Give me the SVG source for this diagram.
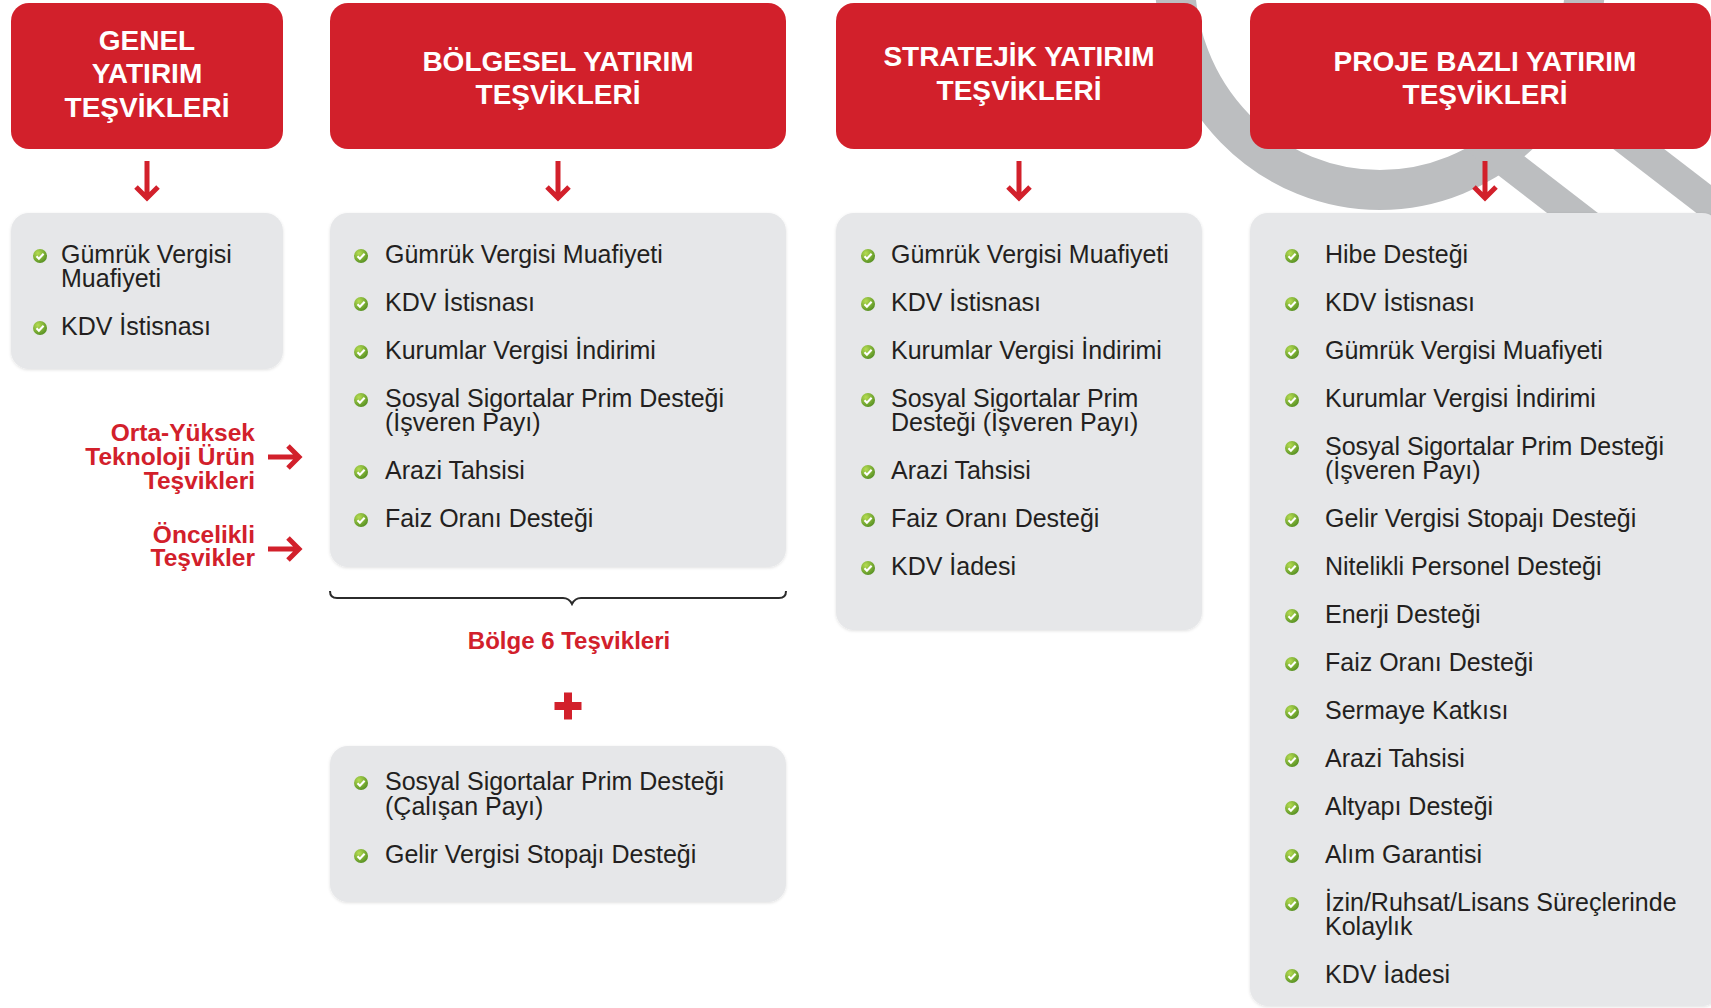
<svg xmlns="http://www.w3.org/2000/svg" xmlns:xlink="http://www.w3.org/1999/xlink" width="1711" height="1008" viewBox="0 0 1711 1008">
<defs>
<style>
.hdr{fill:#d2202b}
.ht{font-family:"Liberation Sans",Arial,sans-serif;font-weight:bold;font-size:28px;fill:#fff;text-anchor:middle}
.box{fill:#e6e7e9}
.it{font-family:"Liberation Sans",Arial,sans-serif;font-size:25px;fill:#231f20}
.lbl{font-family:"Liberation Sans",Arial,sans-serif;font-weight:bold;font-size:24.5px;fill:#d2202b;text-anchor:end}
.arr{fill:none;stroke:#d2202b;stroke-width:5}
.deco{fill:none;stroke:#bcbec0}
</style>
<radialGradient id="gg" cx="0.35" cy="0.3" r="0.8"><stop offset="0" stop-color="#b5dc52"/><stop offset="1" stop-color="#4f8a1f"/></radialGradient>
<g id="chk"><circle r="7" fill="url(#gg)"/><path d="M-3.5,0.3 L-1.1,2.7 L3.6,-2.3" fill="none" stroke="#fff" stroke-width="2.1"/></g>
<filter id="sh" x="-5%" y="-5%" width="110%" height="110%"><feDropShadow dx="0" dy="1" stdDeviation="1.5" flood-color="#000" flood-opacity="0.12"/></filter>
</defs>
<rect width="1711" height="1008" fill="#fff"/>
<g id="decoration">
<ellipse class="deco" cx="1380" cy="-20" rx="205" ry="210" stroke-width="40"/>
<line class="deco" x1="1426" y1="100" x2="1640" y2="265" stroke-width="31"/>
<line class="deco" x1="1523" y1="60" x2="1770" y2="250" stroke-width="31"/>
</g>

<g id="genel">
<rect class="hdr" x="11" y="3" width="272" height="146" rx="18"/>
<text class="ht" x="147" y="50">GENEL</text>
<text class="ht" x="147" y="83">YATIRIM</text>
<text class="ht" x="147" y="117">TEŞVİKLERİ</text>
</g>
<g id="genel-list">
<rect class="box" x="11" y="213" width="272" height="156" rx="18" filter="url(#sh)"/>
<use xlink:href="#chk" x="40" y="256"/>
<text class="it" x="61" y="263">Gümrük Vergisi<tspan x="61" dy="24">Muafiyeti</tspan></text>
<use xlink:href="#chk" x="40" y="328"/>
<text class="it" x="61" y="335">KDV İstisnası</text>
</g>

<g id="bolgesel">
<rect class="hdr" x="330" y="3" width="456" height="146" rx="18"/>
<text class="ht" x="558" y="71">BÖLGESEL YATIRIM</text>
<text class="ht" x="558" y="104">TEŞVİKLERİ</text>
</g>
<g id="bolgesel-list">
<rect class="box" x="330" y="213" width="456" height="354" rx="18" filter="url(#sh)"/>
<use xlink:href="#chk" x="361" y="256"/>
<text class="it" x="385" y="263">Gümrük Vergisi Muafiyeti</text>
<use xlink:href="#chk" x="361" y="304"/>
<text class="it" x="385" y="311">KDV İstisnası</text>
<use xlink:href="#chk" x="361" y="352"/>
<text class="it" x="385" y="359">Kurumlar Vergisi İndirimi</text>
<use xlink:href="#chk" x="361" y="400"/>
<text class="it" x="385" y="407">Sosyal Sigortalar Prim Desteği<tspan x="385" dy="24">(İşveren Payı)</tspan></text>
<use xlink:href="#chk" x="361" y="472"/>
<text class="it" x="385" y="479">Arazi Tahsisi</text>
<use xlink:href="#chk" x="361" y="520"/>
<text class="it" x="385" y="527">Faiz Oranı Desteği</text>
</g>

<g id="bolge6">
<path d="M330,591 Q330,598 337,598 L563,598 Q569,598 572,604 Q575,598 581,598 L779,598 Q786,598 786,591" fill="none" stroke="#2b2b2b" stroke-width="2"/>
<text x="569" y="649" font-family="'Liberation Sans',Arial,sans-serif" font-weight="bold" font-size="24" fill="#d2202b" text-anchor="middle">Bölge 6 Teşvikleri</text>
<path d="M554.5,706 H581.5 M568,692.5 V719.5" stroke="#d2202b" stroke-width="8" fill="none"/>
</g>
<g id="bolge6-list">
<rect class="box" x="330" y="746" width="456" height="156" rx="18" filter="url(#sh)"/>
<use xlink:href="#chk" x="361" y="783"/>
<text class="it" x="385" y="790">Sosyal Sigortalar Prim Desteği<tspan x="385" dy="25">(Çalışan Payı)</tspan></text>
<use xlink:href="#chk" x="361" y="856"/>
<text class="it" x="385" y="863">Gelir Vergisi Stopajı Desteği</text>
</g>

<g id="stratejik">
<rect class="hdr" x="836" y="3" width="366" height="146" rx="18"/>
<text class="ht" x="1019" y="66">STRATEJİK YATIRIM</text>
<text class="ht" x="1019" y="100">TEŞVİKLERİ</text>
</g>
<g id="stratejik-list">
<rect class="box" x="836" y="213" width="366" height="417" rx="18" filter="url(#sh)"/>
<use xlink:href="#chk" x="868" y="256"/>
<text class="it" x="891" y="263">Gümrük Vergisi Muafiyeti</text>
<use xlink:href="#chk" x="868" y="304"/>
<text class="it" x="891" y="311">KDV İstisnası</text>
<use xlink:href="#chk" x="868" y="352"/>
<text class="it" x="891" y="359">Kurumlar Vergisi İndirimi</text>
<use xlink:href="#chk" x="868" y="400"/>
<text class="it" x="891" y="407">Sosyal Sigortalar Prim<tspan x="891" dy="24">Desteği (İşveren Payı)</tspan></text>
<use xlink:href="#chk" x="868" y="472"/>
<text class="it" x="891" y="479">Arazi Tahsisi</text>
<use xlink:href="#chk" x="868" y="520"/>
<text class="it" x="891" y="527">Faiz Oranı Desteği</text>
<use xlink:href="#chk" x="868" y="568"/>
<text class="it" x="891" y="575">KDV İadesi</text>
</g>

<g id="proje">
<rect class="hdr" x="1250" y="3" width="461" height="146" rx="18"/>
<text class="ht" x="1485" y="71">PROJE BAZLI YATIRIM</text>
<text class="ht" x="1485" y="104">TEŞVİKLERİ</text>
</g>
<g id="proje-list">
<rect class="box" x="1250" y="213" width="470" height="793" rx="18" filter="url(#sh)"/>
<use xlink:href="#chk" x="1292" y="256"/>
<text class="it" x="1325" y="263">Hibe Desteği</text>
<use xlink:href="#chk" x="1292" y="304"/>
<text class="it" x="1325" y="311">KDV İstisnası</text>
<use xlink:href="#chk" x="1292" y="352"/>
<text class="it" x="1325" y="359">Gümrük Vergisi Muafiyeti</text>
<use xlink:href="#chk" x="1292" y="400"/>
<text class="it" x="1325" y="407">Kurumlar Vergisi İndirimi</text>
<use xlink:href="#chk" x="1292" y="448"/>
<text class="it" x="1325" y="455">Sosyal Sigortalar Prim Desteği<tspan x="1325" dy="24">(İşveren Payı)</tspan></text>
<use xlink:href="#chk" x="1292" y="520"/>
<text class="it" x="1325" y="527">Gelir Vergisi Stopajı Desteği</text>
<use xlink:href="#chk" x="1292" y="568"/>
<text class="it" x="1325" y="575">Nitelikli Personel Desteği</text>
<use xlink:href="#chk" x="1292" y="616"/>
<text class="it" x="1325" y="623">Enerji Desteği</text>
<use xlink:href="#chk" x="1292" y="664"/>
<text class="it" x="1325" y="671">Faiz Oranı Desteği</text>
<use xlink:href="#chk" x="1292" y="712"/>
<text class="it" x="1325" y="719">Sermaye Katkısı</text>
<use xlink:href="#chk" x="1292" y="760"/>
<text class="it" x="1325" y="767">Arazi Tahsisi</text>
<use xlink:href="#chk" x="1292" y="808"/>
<text class="it" x="1325" y="815">Altyapı Desteği</text>
<use xlink:href="#chk" x="1292" y="856"/>
<text class="it" x="1325" y="863">Alım Garantisi</text>
<use xlink:href="#chk" x="1292" y="904"/>
<text class="it" x="1325" y="911">İzin/Ruhsat/Lisans Süreçlerinde<tspan x="1325" dy="24">Kolaylık</tspan></text>
<use xlink:href="#chk" x="1292" y="976"/>
<text class="it" x="1325" y="983">KDV İadesi</text>
</g>

<g id="orta-yuksek">
<text class="lbl" x="255" y="441">Orta-Yüksek<tspan x="255" dy="24">Teknoloji Ürün</tspan><tspan x="255" dy="24">Teşvikleri</tspan></text>
</g>
<g id="oncelikli">
<text class="lbl" x="255" y="543">Öncelikli<tspan x="255" dy="23">Teşvikler</tspan></text>
</g>

<g id="connectors">
<path class="arr" d="M147,161 V198 M136,187 L147,198 L158,187"/>
<path class="arr" d="M558,161 V198 M547,187 L558,198 L569,187"/>
<path class="arr" d="M1019,161 V198 M1008,187 L1019,198 L1030,187"/>
<path class="arr" d="M1485,161 V198 M1474,187 L1485,198 L1496,187"/>
<path class="arr" d="M268,457 H299 M288,446 L299,457 L288,468" stroke-width="6"/>
<path class="arr" d="M268,549 H299 M288,538 L299,549 L288,560" stroke-width="6"/>
</g>
</svg>
